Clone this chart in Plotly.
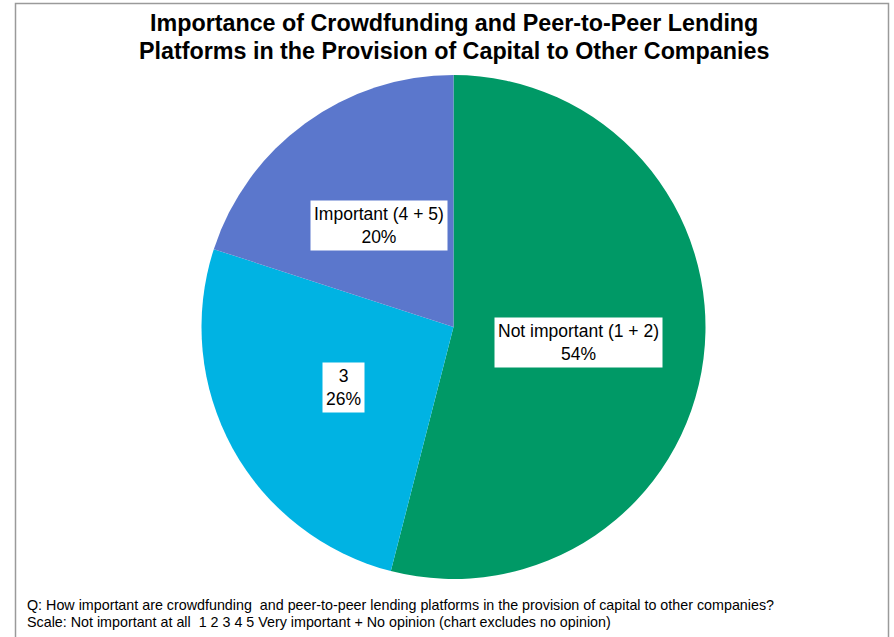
import math
import plotly.graph_objects as go

# Survey shares (percent), clockwise from 12 o'clock
categories = ["Not important (1 + 2)", "3", "Important (4 + 5)"]
shares = [54, 26, 20]
colors = ["#009966", "#00B3E3", "#5B77CC"]

title_lines = [
    "Importance of Crowdfunding and Peer-to-Peer Lending",
    "Platforms in the Provision of Capital to Other Companies",
]
footnote_lines = [
    "Q: How important are crowdfunding  and peer-to-peer lending platforms in the provision of capital to other companies?",
    "Scale: Not important at all  1 2 3 4 5 Very important + No opinion (chart excludes no opinion)",
]

W, H = 894, 637
CX, CY, R = 453.5, 327.0, 252.0  # pie centre and radius in pixels
LABEL_RADIUS = 0.5  # label distance from centre, as a fraction of R
FONT = "Liberation Sans, Arial, sans-serif"

fig = go.Figure(
    go.Pie(
        labels=categories,
        values=shares,
        sort=False,
        direction="clockwise",
        rotation=0,
        marker=dict(colors=colors, line=dict(width=0)),
        textinfo="none",
        hoverinfo="label+percent",
        showlegend=False,
        domain=dict(
            x=[(CX - R) / W, (CX + R) / W],
            y=[1 - (CY + R) / H, 1 - (CY - R) / H],
        ),
    )
)

# White-boxed data labels placed along each slice's mid-angle
total = sum(shares)
cum = 0.0
annotations = []
for name, v in zip(categories, shares):
    mid = (cum + v / 2) / total
    cum += v
    theta = 2 * math.pi * mid
    dx = LABEL_RADIUS * R * math.sin(theta)
    dy = -LABEL_RADIUS * R * math.cos(theta)
    annotations.append(
        dict(
            x=(CX + dx) / W,
            y=1 - (CY + dy) / H,
            xref="paper",
            yref="paper",
            text=f"{name}<br>{round(v / total * 100)}%",
            showarrow=False,
            align="center",
            bgcolor="white",
            borderpad=3,
            font=dict(family=FONT, size=17.5, color="black"),
        )
    )

# Title
for i, line in enumerate(title_lines):
    annotations.append(
        dict(
            x=454 / W,
            y=1 - (23 + 28 * i) / H,
            xref="paper",
            yref="paper",
            text=f"<b>{line}</b>",
            showarrow=False,
            xanchor="center",
            yanchor="middle",
            font=dict(family=FONT, size=23.3, color="black"),
        )
    )

# Footnote
for i, line in enumerate(footnote_lines):
    annotations.append(
        dict(
            x=25 / W,
            y=1 - (605 + 17 * i) / H,
            xref="paper",
            yref="paper",
            text=line,
            showarrow=False,
            xanchor="left",
            yanchor="middle",
            font=dict(family=FONT, size=14.3, color="black"),
        )
    )

fig.update_layout(
    width=W,
    height=H,
    margin=dict(l=0, r=0, t=0, b=0),
    paper_bgcolor="white",
    plot_bgcolor="white",
    annotations=annotations,
    shapes=[
        dict(
            type="rect",
            xref="paper",
            yref="paper",
            x0=15.5 / W,
            x1=888.5 / W,
            y0=-0.05,
            y1=1 - 3.5 / H,
            line=dict(color="#9A9A9A", width=1.5),
            fillcolor="rgba(0,0,0,0)",
        )
    ],
)

fig.write_html("out.html")
